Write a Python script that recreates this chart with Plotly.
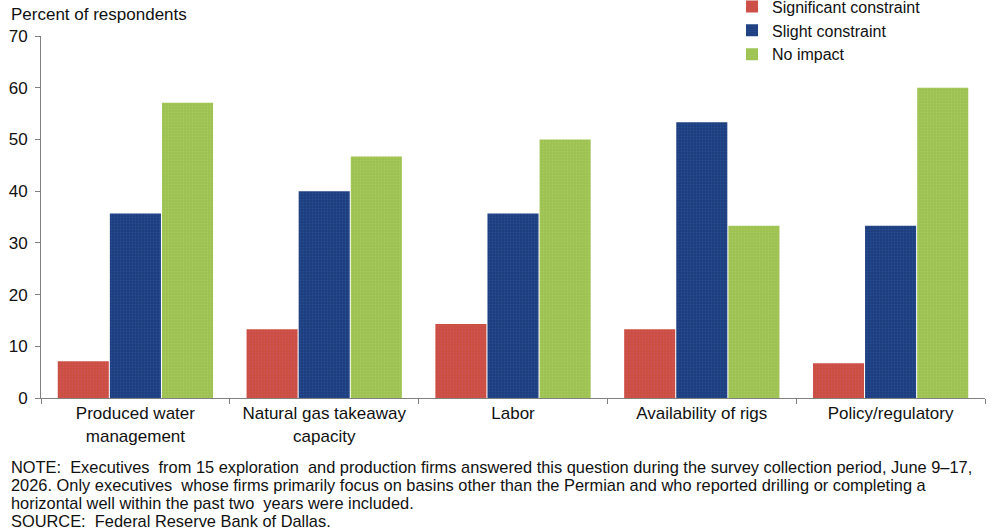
import plotly.graph_objects as go

categories = ["Produced water<br>management", "Natural gas takeaway<br>capacity", "Labor",
              "Availability of rigs", "Policy/regulatory"]
significant = [7.1, 13.3, 14.3, 13.3, 6.7]
slight = [35.7, 40.0, 35.7, 53.3, 33.3]
no_impact = [57.1, 46.7, 50.0, 33.3, 60.0]
y_ticks = [0, 10, 20, 30, 40, 50, 60, 70]

note_lines = [
    "NOTE:  Executives  from 15 exploration  and production firms answered this question during the survey collection period, June 9–17,",
    "2026. Only executives  whose firms primarily focus on basins other than the Permian and who reported drilling or completing a",
    "horizontal well within the past two  years were included.",
    "SOURCE:  Federal Reserve Bank of Dallas.",
]

series = [
    ("Significant constraint", significant, "#C8503F", "#E0506A"),
    ("Slight constraint", slight, "#1E3C7C", "#2A5AA8"),
    ("No impact", no_impact, "#9CC152", "#B0D060"),
]

fig = go.Figure()
for name, vals, col, fg in series:
    fig.add_trace(go.Bar(
        x=categories, y=vals, name=name,
        marker=dict(color=col, line=dict(width=0),
                    pattern=dict(shape=".", size=3, solidity=0.3, fgcolor=fg, fgopacity=0.6)),
    ))

fig.update_layout(
    width=996, height=532,
    margin=dict(l=41, r=11, t=36, b=134, autoexpand=False),
    paper_bgcolor="white", plot_bgcolor="white",
    barmode="group", bargap=0.172, bargroupgap=0.02,
    font=dict(family="Arial, Liberation Sans, sans-serif", size=17, color="#111"),
    showlegend=True,
    legend=dict(x=0.732, y=1.128, xanchor="left", yanchor="top",
                bgcolor="rgba(0,0,0,0)", font=dict(size=16), tracegroupgap=0,
                itemwidth=30),
    xaxis=dict(showline=True, linecolor="#808080", linewidth=1, ticks="outside",
               ticklen=5, tickcolor="#808080", tickson="boundaries",
               tickfont=dict(size=17), showgrid=False),
    yaxis=dict(range=[0, 70], tickvals=y_ticks, showline=True, linecolor="#808080",
               linewidth=1, ticks="outside", ticklen=5, tickcolor="#808080",
               showgrid=False, zeroline=False, tickfont=dict(size=17),
               ticklabelstandoff=4),
)

fig.add_annotation(text="Percent of respondents", xref="paper", yref="paper",
                   x=-0.034, y=1.0, yshift=22, xanchor="left", yanchor="middle",
                   showarrow=False, font=dict(size=17))

for i, line in enumerate(note_lines):
    fig.add_annotation(text=line, xref="paper", yref="paper", x=-0.034, y=0,
                       yshift=-(69 + 18 * i), xanchor="left", yanchor="middle",
                       align="left", showarrow=False,
                       font=dict(size=16.4, family="Liberation Sans Narrow, Arial Narrow, sans-serif"))

fig.write_html("out.html")
